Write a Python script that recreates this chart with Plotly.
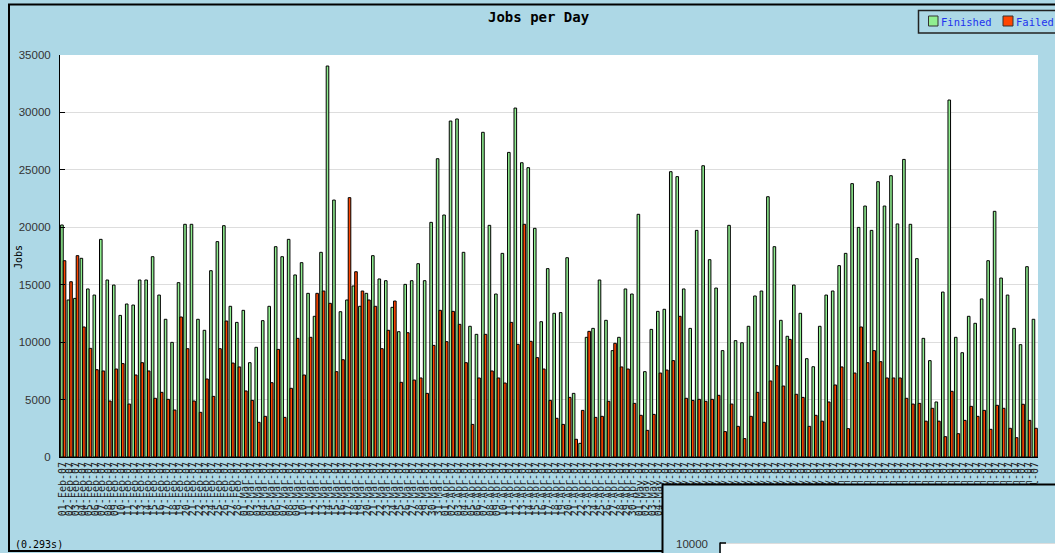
import pandas as pd
import plotly.graph_objects as go

finished = [20200, 13670, 13810, 17300, 14630, 14100, 18950, 15410, 14970, 12330,
            13320, 13230, 15410, 15410, 17440, 14100, 11990, 9980, 15180, 20260,
            20260, 11990, 11030, 16220, 18750, 20140, 13120, 11720, 12770, 8210,
            9550, 11870, 13120, 18310, 17440, 18950, 15850, 16920, 14250, 12250,
            17820, 34040, 22370, 12650, 13670, 14890, 13120, 14250, 17530, 15500,
            15350, 13030, 10910, 15030, 15350, 16830, 15350, 20430, 25970, 21070,
            29250, 29430, 17820, 11380, 10680, 28270, 20170, 14190, 17730, 26520,
            30380, 25620, 25190, 19910, 11780, 16400, 12510, 12570, 17350, 5540,
            1190, 10420, 11200, 15410, 11900, 9260, 10420, 14630, 14190, 21130,
            7430, 11110, 12680, 12860, 24840, 24410, 14630, 11200, 19730, 25360,
            17180, 14710, 9260, 20170, 10130, 9950, 11380, 14020, 14450, 22660,
            18310, 11900, 10510, 14970, 12510, 8560, 7860, 11380, 14100, 14450,
            16660, 17730, 23800, 19990, 21850, 19730, 23970, 21850, 24490, 20290,
            25910, 20260, 17270, 10330, 8390, 4790, 14360, 31080, 10420, 9080,
            12250, 11640, 13760, 17090, 21390, 15580, 14100, 11200, 9780, 16570,
            11990]

failed = [17090, 15260, 17530, 11320, 9460, 7600, 7490, 4875, 7660, 8130,
          4610, 7140, 8210, 7490, 5110, 5630, 5020, 4090, 12190, 9430,
          4875, 3890, 6790, 5280, 9430, 11840, 8180, 7840, 5750, 4930,
          3020, 3540, 6470, 9370, 3450, 5980, 10330, 7140, 10420, 14250,
          14450, 13380, 7430, 8470, 22580, 16130, 14450, 13670, 13120, 9430,
          11030, 13580, 6500, 10820, 6700, 6880, 5540, 9720, 12770, 10040,
          12680, 11550, 8210, 2840, 6880, 10680, 7490, 6880, 6440, 11720,
          9810, 20260, 10070, 8650, 7660, 4930, 3370, 2840, 5190, 1540,
          4060, 10940, 3450, 3540, 4850, 9900, 7840, 7660, 4670, 3630,
          2320, 3710, 7310, 7570, 8390, 12250, 5110, 4930, 5020, 4850,
          5020, 5370, 2210, 4610, 2670, 1600, 3540, 5630, 3020, 6620,
          7950, 6180, 10240, 5460, 5190, 2670, 3630, 3120, 4790, 6270,
          7840, 2470, 7310, 11320, 8210, 9260, 8300, 6880, 6880, 6880,
          5110, 4610, 4670, 3120, 4240, 3120, 1770, 5720, 2030, 3190,
          4410, 3540, 4060, 2410, 4500, 4240, 2500, 1680, 4590, 3190,
          2500]

days = list(pd.date_range("2007-02-01", periods=len(finished)).strftime("%d-%b-%y"))
y_ticks = [0, 5000, 10000, 15000, 20000, 25000, 30000, 35000]

W, H = 1055, 553
L, R, T, B = 60, 1038, 55, 457
MONO = "DejaVu Sans Mono"
SANS = "Liberation Sans"
BG = "#add8e6"


def px(x):
    return (x - L) / (R - L)


def py(y):
    return (B - y) / (B - T)


fig = go.Figure()
fig.add_trace(go.Bar(x=days, y=finished, name="Finished",
                     marker=dict(color="#90ee90", line=dict(color="#000000", width=1))))
fig.add_trace(go.Bar(x=days, y=failed, name="Failed",
                     marker=dict(color="#ff4500", line=dict(color="#000000", width=1))))

shapes = []
# outer frame of chart
shapes.append(dict(type="rect", xref="paper", yref="paper",
                   x0=px(9), x1=px(1080), y0=py(4.5), y1=py(551),
                   line=dict(color="#000000", width=2), fillcolor="rgba(0,0,0,0)",
                   layer="above"))
# legend box
shapes.append(dict(type="rect", xref="paper", yref="paper",
                   x0=px(918.5), x1=px(1080), y0=py(10.5), y1=py(33),
                   line=dict(color="#222222", width=1.5), fillcolor=BG, layer="above"))
shapes.append(dict(type="rect", xref="paper", yref="paper",
                   x0=px(928.5), x1=px(938), y0=py(16), y1=py(26),
                   line=dict(color="#333333", width=1), fillcolor="#90ee90", layer="above"))
shapes.append(dict(type="rect", xref="paper", yref="paper",
                   x0=px(1003), x1=px(1013), y0=py(16), y1=py(26),
                   line=dict(color="#333333", width=1), fillcolor="#ff4500", layer="above"))
# second chart box overlapping at the bottom right
shapes.append(dict(type="rect", xref="paper", yref="paper",
                   x0=px(662.5), x1=px(1080), y0=py(484.5), y1=py(600),
                   line=dict(color="#000000", width=2), fillcolor=BG, layer="above"))
shapes.append(dict(type="rect", xref="paper", yref="paper",
                   x0=px(721), x1=px(1080), y0=py(543), y1=py(600),
                   line=dict(width=0), fillcolor="#ffffff", layer="above"))
shapes.append(dict(type="line", xref="paper", yref="paper",
                   x0=px(721), x1=px(1080), y0=py(543.5), y1=py(543.5),
                   line=dict(color="#dddddd", width=1), layer="above"))
shapes.append(dict(type="line", xref="paper", yref="paper",
                   x0=px(720), x1=px(720), y0=py(542.5), y1=py(600),
                   line=dict(color="#000000", width=1.5), layer="above"))
shapes.append(dict(type="line", xref="paper", yref="paper",
                   x0=px(720), x1=px(726), y0=py(543), y1=py(543),
                   line=dict(color="#000000", width=1.5), layer="above"))

annotations = [
    dict(text="<b>Jobs per Day</b>", xref="paper", yref="paper", x=px(539), y=py(17),
         xanchor="center", yanchor="middle", showarrow=False,
         font=dict(family=MONO, size=14, color="#000000")),
    dict(text="Finished", xref="paper", yref="paper", x=px(939), y=py(21.5),
         xanchor="left", yanchor="middle", showarrow=False,
         font=dict(family=MONO, size=10.5, color="#2233ee")),
    dict(text="Failed", xref="paper", yref="paper", x=px(1014), y=py(21.5),
         xanchor="left", yanchor="middle", showarrow=False,
         font=dict(family=MONO, size=10.5, color="#2233ee")),
    dict(text="Jobs", xref="paper", yref="paper", x=px(18), y=py(257),
         xanchor="center", yanchor="middle", showarrow=False, textangle=-90,
         font=dict(family=MONO, size=10, color="#000000")),
    dict(text="(0.293s)", xref="paper", yref="paper", x=px(13), y=py(544),
         xanchor="left", yanchor="middle", showarrow=False,
         font=dict(family=MONO, size=10, color="#000000")),
    dict(text="10000", xref="paper", yref="paper", x=px(710), y=py(543.5),
         xanchor="right", yanchor="middle", showarrow=False,
         font=dict(family=SANS, size=11.5, color="#333333")),
]

fig.update_layout(
    width=W, height=H,
    margin=dict(l=L, r=W - R, t=T, b=H - B, pad=0),
    paper_bgcolor=BG, plot_bgcolor="#ffffff",
    barmode="group", bargap=0.2, bargroupgap=0.0,
    showlegend=False,
    shapes=shapes, annotations=annotations,
    xaxis=dict(type="category", range=[-0.5, len(days) - 0.5],
               tickmode="linear", tick0=0, dtick=1, tickangle=-90,
               tickfont=dict(family=MONO, size=10, color="#222222"),
               showline=True, linecolor="#000000", linewidth=1,
               ticks="", showgrid=False, automargin=False),
    yaxis=dict(range=[0, 35000], tickmode="array", tickvals=y_ticks,
               ticktext=[str(v) for v in y_ticks],
               tickfont=dict(family=SANS, size=11.5, color="#333333"),
               showline=True, linecolor="#000000", linewidth=1,
               ticks="inside", ticklen=5, tickcolor="#000000",
               ticklabelstandoff=6,
               showgrid=True, gridcolor="#dddddd", gridwidth=1,
               zeroline=False, automargin=False),
)

fig.write_html("out.html",
               config={"displayModeBar": False},
               post_script="document.body.style.margin='0';"
                           "document.body.style.overflow='hidden';")
